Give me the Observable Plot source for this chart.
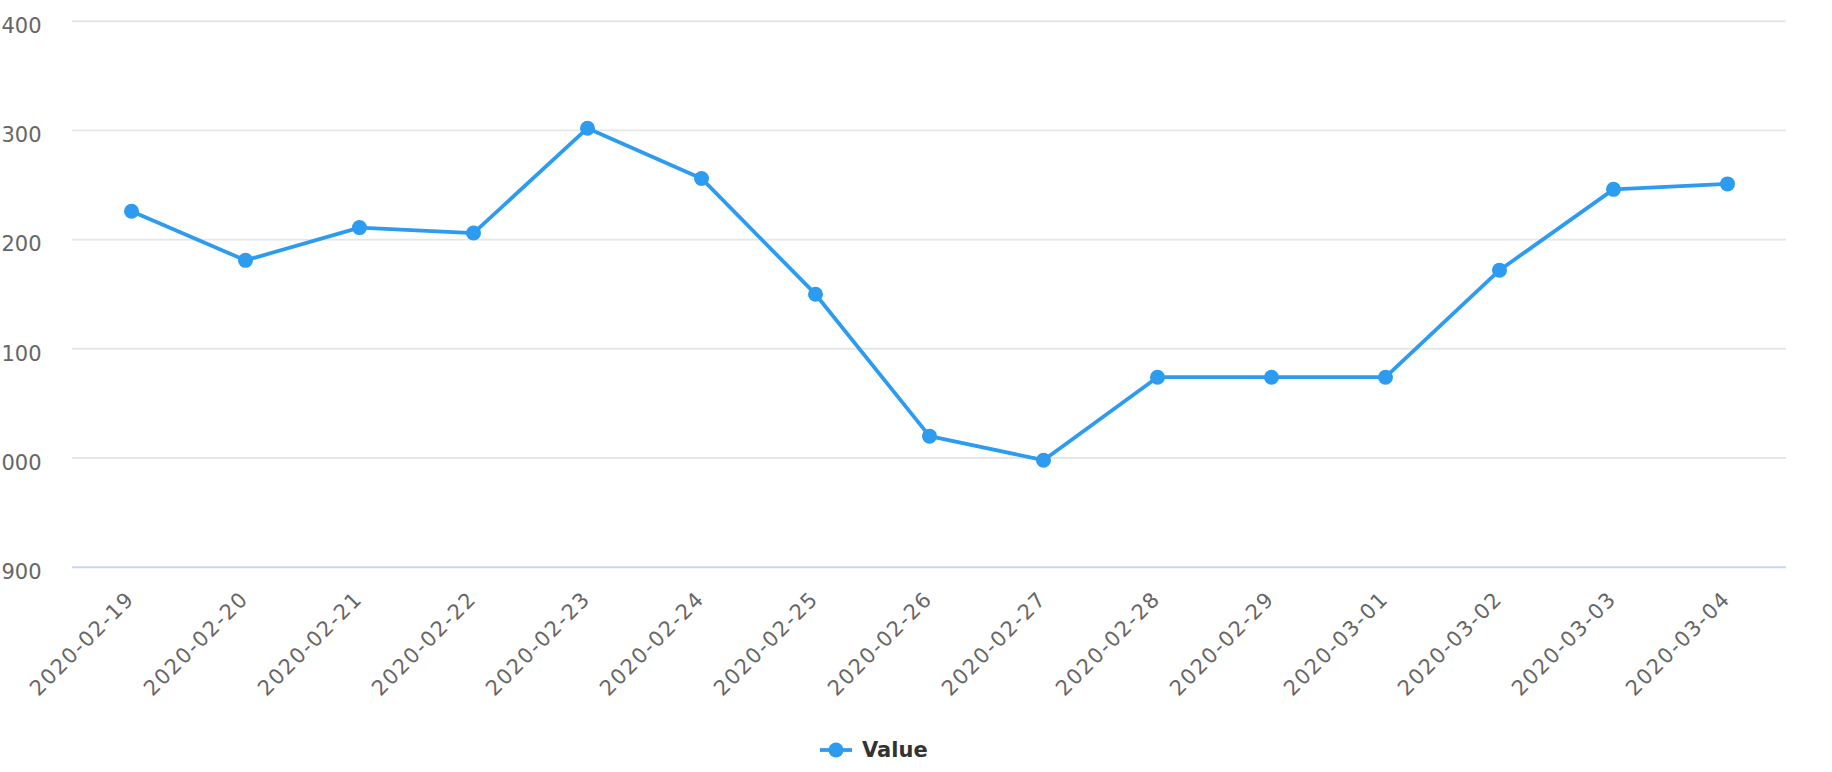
<!DOCTYPE html>
<html>
<head>
<meta charset="utf-8">
<script src="https://cdn.jsdelivr.net/npm/d3@7"></script>
<script src="https://cdn.jsdelivr.net/npm/@observablehq/plot@0.6"></script>
<style>
  html, body { margin: 0; padding: 0; background: white; }
  #chart svg { display: block; }
</style>
</head>
<body>
<div id="chart"></div>
<div id="legend" style="position:relative;height:52px;width:1832px;font-family:'DejaVu Sans',sans-serif;"></div>
<script>
// ---- data ----
const dates = ["2020-02-19","2020-02-20","2020-02-21","2020-02-22","2020-02-23","2020-02-24","2020-02-25","2020-02-26","2020-02-27","2020-02-28","2020-02-29","2020-03-01","2020-03-02","2020-03-03","2020-03-04"];
const values = [2226, 2181, 2211, 2206, 2302, 2256, 2150, 2020, 1998, 2074, 2074, 2074, 2172, 2246, 2251];
const yTicks = [1900, 2000, 2100, 2200, 2300, 2400];
const seriesName = "Value";
const color = "#2d9bf0";

const data = dates.map((d, i) => ({date: d, value: values[i]}));

const chart = Plot.plot({
  width: 1832,
  height: 720,
  marginLeft: 72,
  marginRight: 46,
  marginTop: 20.7,
  marginBottom: 153.3,
  style: {fontFamily: "'DejaVu Sans', sans-serif", background: "white"},
  x: {type: "point", domain: dates, padding: 0.5, axis: null},
  y: {domain: [yTicks[0], yTicks[yTicks.length - 1]], label: null},
  marks: [
    Plot.gridY(yTicks.slice(1), {stroke: "#e6e6e6", strokeOpacity: 1, strokeWidth: 1.9}),
    Plot.ruleY([yTicks[0]], {stroke: "#ccd6eb", strokeWidth: 1.9}),
    Plot.axisY(yTicks, {tickSize: 0, tickPadding: 31, fontSize: 21, fill: "#666666", tickFormat: d3.format("d"), dy: 5, label: null}),
    Plot.text(dates, {x: d => d, frameAnchor: "bottom", rotate: -45, textAnchor: "end", lineAnchor: "bottom", dx: 4, dy: 33, fontSize: 21, fill: "#666666"}),
    Plot.line(data, {x: "date", y: "value", stroke: color, strokeWidth: 3.8}),
    Plot.dot(data, {x: "date", y: "value", r: 7.5, fill: color, stroke: "none"})
  ]
});
d3.select(chart).selectAll("g[aria-label='text'] text").style("letter-spacing", "1.5px");
document.getElementById("chart").appendChild(chart);

// legend
const legend = document.getElementById("legend");
legend.innerHTML = `
  <svg style="position:absolute;left:820px;top:22px" width="32" height="16">
    <line x1="0" x2="32" y1="8" y2="8" stroke="${color}" stroke-width="3.8"></line>
    <circle cx="16" cy="8" r="7.5" fill="${color}"></circle>
  </svg>
  <span style="position:absolute;left:862px;top:18px;font-weight:bold;font-size:21px;line-height:24px;color:#333333;">${seriesName}</span>`;
</script>
</body>
</html>
